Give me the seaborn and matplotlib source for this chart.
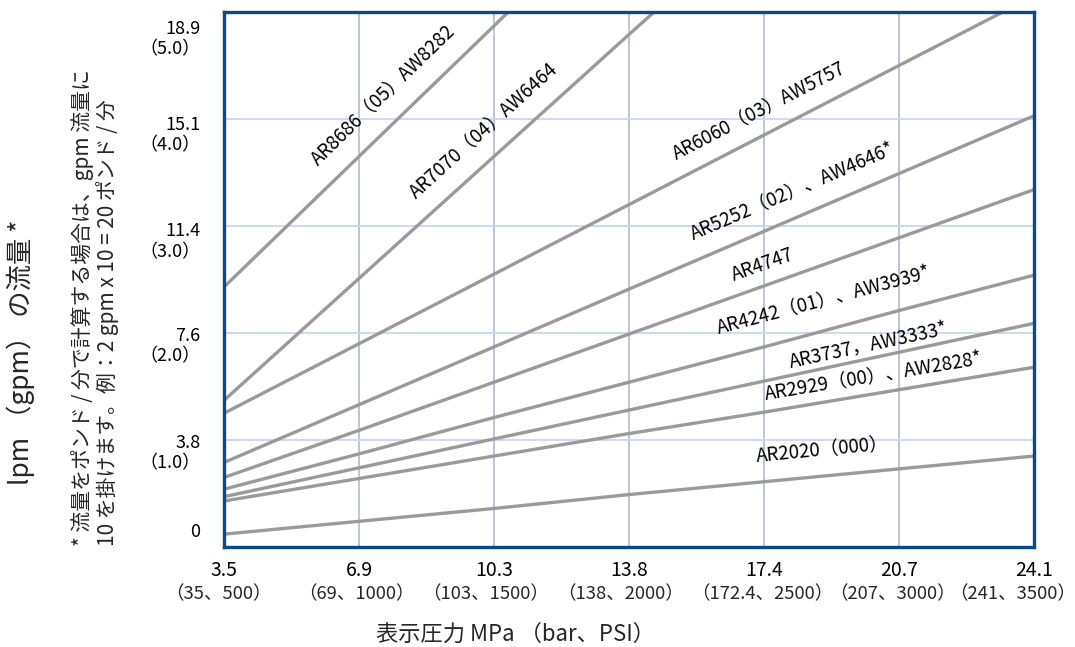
import numpy as np
import pandas as pd
import matplotlib
matplotlib.use('Agg')
import matplotlib.pyplot as plt
import matplotlib.transforms as mtransforms
import seaborn as sns

# 横軸: 表示圧力 MPa（bar、PSI）
pressure_mpa = ['3.5', '6.9', '10.3', '13.8', '17.4', '20.7', '24.1']
pressure_bar_psi = ['（35、500）', '（69、1000）', '（103、1500）', '（138、2000）',
                    '（172.4、2500）', '（207、3000）', '（241、3500）']

# 縦軸: gpm 目盛りと lpm 表示
flow_gpm_ticks = [0, 1, 2, 3, 4, 5]
flow_lpm_labels = ['0', '3.8', '7.6', '11.4', '15.1', '18.9']

# 各モデルの流量 (gpm)、各圧力目盛りでの読み取り値
model_names = ['AR8686（05）AW8282', 'AR7070（04）AW6464', 'AR6060（03）AW5757',
               'AR5252（02）、AW4646*', 'AR4747', 'AR4242（01）、AW3939*',
               'AR3737，AW3333*', 'AR2929（00）、AW2828*', 'AR2020（000）']
flow_ar8686 = [2.43, 3.65, 4.87, 6.10]
flow_ar7070 = [1.37, 2.51, 3.65, 4.79, 5.92]
flow_ar6060 = [1.25, 1.90, 2.55, 3.20, 3.85, 4.50, 5.15]
flow_ar5252 = [0.79, 1.33, 1.87, 2.41, 2.95, 3.49, 4.03]
flow_ar4747 = [0.65, 1.09, 1.54, 1.99, 2.44, 2.89, 3.34]
flow_ar4242 = [0.54, 0.87, 1.21, 1.54, 1.87, 2.21, 2.54]
flow_ar3737 = [0.47, 0.74, 1.01, 1.28, 1.55, 1.82, 2.09]
flow_ar2929 = [0.43, 0.64, 0.85, 1.06, 1.26, 1.47, 1.68]
flow_ar2020 = [0.12, 0.24, 0.36, 0.49, 0.61, 0.73, 0.85]
all_flows = [flow_ar8686, flow_ar7070, flow_ar6060, flow_ar5252, flow_ar4747,
             flow_ar4242, flow_ar3737, flow_ar2929, flow_ar2020]

# ラベル配置 (横位置=目盛り単位, 線からの縦距離=px)
label_pos = [1.18, 1.92, 3.96, 4.21, 3.99, 4.44, 4.77, 4.81, 4.43]
label_gap = [38, 36, 27, 28, 21, 31, 14, 18, 27]

sns.set_theme(style='white')
plt.rcParams['font.family'] = ['Noto Sans CJK JP', 'DejaVu Sans']
plt.rcParams['axes.unicode_minus'] = False

rows = []
for name, flows in zip(model_names, all_flows):
    for i, v in enumerate(flows):
        rows.append({'pos': i, 'gpm': v, 'model': name})
df = pd.DataFrame(rows)

fig = plt.figure(figsize=(10.75, 6.47), dpi=100)
ax = fig.add_axes([224 / 1075, 100 / 647, 810 / 1075, 535 / 647])

line_color = '#9a9a9a'
sns.lineplot(data=df, x='pos', y='gpm', hue='model', hue_order=model_names,
             palette=[line_color] * len(model_names), legend=False,
             linewidth=2.4, estimator=None, sort=False, ax=ax)

ax.set_xlim(0, len(pressure_mpa) - 1)
ax.set_ylim(flow_gpm_ticks[0], flow_gpm_ticks[-1])
ax.set_xticks(range(len(pressure_mpa)))
ax.set_xticklabels(pressure_mpa, fontsize=14)
ax.set_yticks(flow_gpm_ticks)
ylabels = [lpm if g == 0 else f'{lpm}\n（{g:.1f}）' for lpm, g in zip(flow_lpm_labels, flow_gpm_ticks)]
ax.set_yticklabels(ylabels, fontsize=13, multialignment='right')
ax.set_xlabel('')
ax.set_ylabel('')
ax.tick_params(axis='both', length=0, colors='black')
ax.tick_params(axis='y', pad=17)
ax.tick_params(axis='x', pad=9)

# 目盛りラベルの微調整
y_shift = [12, -7, -7, -9, -9, -17]
for lab, dy in zip(ax.get_yticklabels(), y_shift):
    lab.set_transform(lab.get_transform() + mtransforms.ScaledTranslation(0, dy / 72, fig.dpi_scale_trans))
x_shift = [-6, -3, -8, -8, -2, -7, -21]
for i, (txt, dx) in enumerate(zip(pressure_bar_psi, x_shift)):
    ax.annotate(txt, xy=(i, 0), xycoords=('data', 'axes fraction'),
                xytext=(dx, -47), textcoords='offset pixels',
                ha='center', va='center', fontsize=13.3, annotation_clip=False)

ax.grid(axis='x', color='#a9b5ca', linewidth=1.1)
ax.grid(axis='y', color='#c6d8f0', linewidth=1.3)
ax.set_axisbelow(True)
for sp in ax.spines.values():
    sp.set_color('#0b4a8a')
    sp.set_linewidth(2.4)
    sp.set_visible(True)

# 線に沿ったラベル
for name, flows, lx, gap in zip(model_names, all_flows, label_pos, label_gap):
    xs = np.arange(len(flows))
    ly = np.interp(lx, xs, flows)
    p0 = ax.transData.transform((xs[0], flows[0]))
    p1 = ax.transData.transform((xs[-1], flows[-1]))
    ang = np.degrees(np.arctan2(p1[1] - p0[1], p1[0] - p0[0]))
    ax.annotate(name, xy=(lx, ly), xytext=(0, gap), textcoords='offset pixels',
                rotation=ang, rotation_mode='anchor', ha='center', va='center',
                fontsize=13.5, color='black')

fig.text(21 / 1075, 1 - 352 / 647, 'lpm （gpm） の流量 *', rotation=90,
         ha='center', va='center', fontsize=19)
fig.text(95 / 1075, 1 - 546 / 647,
         '* 流量をポンド / 分で計算する場合は、gpm 流量に\n10 を掛けます。例：2 gpm x 10 = 20 ポンド / 分',
         rotation=90, ha='center', va='bottom', multialignment='left',
         fontsize=15, linespacing=1.15)
fig.text(515 / 1075, 1 - 634 / 647, '表示圧力 MPa （bar、PSI）',
         ha='center', va='center', fontsize=16)

plt.savefig('out.png', dpi=100)
plt.close()
